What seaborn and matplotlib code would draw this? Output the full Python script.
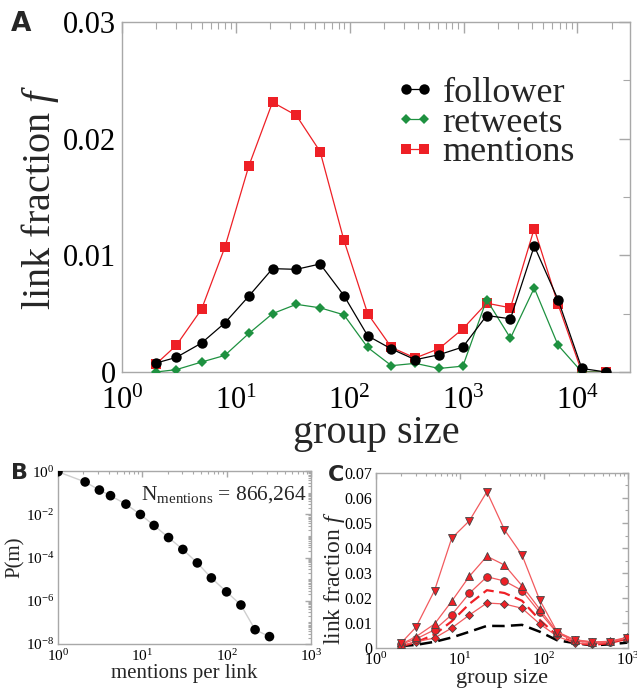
import numpy as np
import pandas as pd
import matplotlib
matplotlib.use("Agg")
import matplotlib.pyplot as plt
import matplotlib.ticker as mticker
import seaborn as sns

# ---------------- data ----------------
group_size = [2, 3, 5, 8, 13, 21, 34, 55, 89, 144, 233, 377, 610, 987,
              1597, 2584, 4181, 6765, 10946, 17711]
follower = [0.00077, 0.00125, 0.00248, 0.0042, 0.0065, 0.00886, 0.0088, 0.00926,
            0.00655, 0.0031, 0.00197, 0.00105, 0.00148, 0.00214, 0.00484, 0.00456,
            0.0108, 0.0062, 0.0003, 0.0]
retweets = [0.0, 0.0002, 0.00085, 0.00142, 0.0033, 0.0050, 0.0058, 0.0055,
            0.0049, 0.0021, 0.00054, 0.00074, 0.0003, 0.0005, 0.0062, 0.0029,
            0.0072, 0.0023, 0.0, 0.0]
mentions = [0.0007, 0.00228, 0.00538, 0.01068, 0.01766, 0.02313, 0.0220, 0.0189,
            0.0113, 0.0050, 0.0021, 0.0012, 0.0020, 0.0037, 0.0059, 0.0055,
            0.0123, 0.0058, 0.0, 0.0]

mentions_per_link = [1, 2.1, 3.1, 4.2, 6.4, 9.5, 13.8, 20.5, 30.3, 45, 66, 100, 148, 218, 323]
p_m = [0.95, 0.32, 0.135, 0.074, 0.030, 0.010, 0.0031, 8.5e-4, 2.4e-4, 5.7e-5,
       1.15e-5, 2.6e-6, 6.4e-7, 4.6e-8, 2.2e-8]

group_size_c = group_size[:14]
c_down = [0.002, 0.0083, 0.023, 0.0439, 0.0509, 0.0625, 0.0473, 0.0372, 0.0193,
          0.0065, 0.0033, 0.0025, 0.0025, 0.0041]
c_up = [0.0016, 0.0045, 0.0096, 0.0187, 0.0287, 0.0367, 0.0332, 0.0249, 0.0156,
        0.0063, 0.0031, 0.0024, 0.0027, 0.0043]
c_circle = [0.0015, 0.0036, 0.0073, 0.0133, 0.0219, 0.0285, 0.0268, 0.023, 0.0143,
            0.006, 0.0028, 0.0021, 0.0025, 0.0039]
c_diamond = [0.0009, 0.0025, 0.004, 0.008, 0.0132, 0.018, 0.0176, 0.0159, 0.0097,
             0.0047, 0.002, 0.0016, 0.0023, 0.0041]
c_mentions = mentions[:14]
c_follower = follower[:14]

ya_ticks = [0, 0.01, 0.02, 0.03]
ya_labels = ["0", "0.01", "0.02", "0.03"]
yc_ticks = [0, 0.01, 0.02, 0.03, 0.04, 0.05, 0.06, 0.07]
yc_labels = ["0", "0.01", "0.02", "0.03", "0.04", "0.05", "0.06", "0.07"]
xa_ticks = [1, 10, 100, 1000, 10000]
xbc_ticks = [1, 10, 100, 1000]
yb_ticks = [1e-8, 1e-6, 1e-4, 1e-2, 1]

# ---------------- style ----------------
sns.set_style("white")
SERIF = "Liberation Serif"
plt.rcParams["font.family"] = [SERIF, "DejaVu Serif"]
plt.rcParams["font.serif"] = [SERIF, "DejaVu Serif"]
plt.rcParams["mathtext.fontset"] = "custom"
plt.rcParams["mathtext.rm"] = SERIF
plt.rcParams["mathtext.it"] = SERIF + ":italic"
plt.rcParams["mathtext.bf"] = SERIF + ":bold"

RED = "#ee2026"
GREEN = "#1e9140"
GRAY = "#a8a8a8"


def pow_label(v):
    e = int(round(np.log10(v)))
    return r"$\mathrm{10^{%d}}$" % e


fig = plt.figure(figsize=(6.37, 6.91), dpi=100)
axA = fig.add_axes([0.1915, 0.4617, 0.7975, 0.5063])
axB = fig.add_axes([0.091, 0.068, 0.397, 0.25])
axC = fig.add_axes([0.590, 0.0622, 0.3956, 0.2533])


def style_axes(ax, lsize, maj, mino, xpad=3.5, ypad=3.5):
    for s in ax.spines.values():
        s.set_color(GRAY)
        s.set_linewidth(1.0)
    ax.tick_params(which="both", direction="in", top=True, right=True,
                   color=GRAY, labelcolor="black", labelsize=lsize,
                   labelfontfamily=SERIF)
    ax.tick_params(which="major", length=maj, width=1.0)
    ax.tick_params(which="minor", length=mino, width=0.8)
    ax.tick_params(axis="x", which="both", pad=xpad)
    ax.tick_params(axis="y", which="both", pad=ypad)


minor_log = mticker.LogLocator(base=10, subs=np.arange(2, 10), numticks=30)

# ---------------- panel A ----------------
dfA = pd.DataFrame({"size": group_size, "follower": follower,
                    "retweets": retweets, "mentions": mentions})
axA.set_xscale("log")
sns.lineplot(data=dfA, x="size", y="mentions", ax=axA, color=RED, lw=0.9,
             marker="s", markersize=7, markeredgewidth=0, label="mentions",
             estimator=None, zorder=3)
sns.lineplot(data=dfA, x="size", y="retweets", ax=axA, color=GREEN, lw=0.9,
             marker="D", markersize=5.5, markeredgewidth=0, label="retweets",
             estimator=None, zorder=4)
sns.lineplot(data=dfA, x="size", y="follower", ax=axA, color="black", lw=0.9,
             marker="o", markersize=7.5, markeredgewidth=0, label="follower",
             estimator=None, zorder=5)
axA.set_yticks(ya_ticks, ya_labels)
axA.set_xticks(xa_ticks, [pow_label(v) for v in xa_ticks])
axA.yaxis.set_minor_locator(mticker.MultipleLocator(0.005))
axA.xaxis.set_minor_locator(minor_log)
axA.xaxis.set_minor_formatter(mticker.NullFormatter())
style_axes(axA, 22, 8, 5, xpad=11, ypad=4)
axA.set_xlim(1, 2.9e4)
axA.set_ylim(0, 0.03)
axA.set_xlabel("group size", fontsize=29, labelpad=-1, family=SERIF)
axA.set_ylabel(r"link fraction $f$", fontsize=29, labelpad=2, family=SERIF)
h, l = axA.get_legend_handles_labels()
order = [2, 1, 0]
axA.legend([h[i] for i in order], [l[i] for i in order], loc="upper left",
           bbox_to_anchor=(0.51, 0.885), frameon=False, numpoints=2,
           prop=dict(family=SERIF, size=26),
           handlelength=1.1, handletextpad=0.2, labelspacing=-0.1,
           borderaxespad=0)

# ---------------- panel B ----------------
dfB = pd.DataFrame({"m": mentions_per_link, "p": p_m})
axB.set_xscale("log")
axB.set_yscale("log")
sns.lineplot(data=dfB, x="m", y="p", ax=axB, color="#cfcfcf", lw=1.0,
             estimator=None, zorder=2)
sns.scatterplot(data=dfB, x="m", y="p", ax=axB, color="black", s=48,
                edgecolor="none", zorder=3)
axB.set_yticks(yb_ticks, [pow_label(v) for v in yb_ticks])
axB.set_xticks(xbc_ticks, [pow_label(v) for v in xbc_ticks])
axB.yaxis.set_minor_locator(mticker.LogLocator(base=10, subs=np.arange(1, 10), numticks=40))
axB.yaxis.set_minor_formatter(mticker.NullFormatter())
axB.xaxis.set_minor_locator(minor_log)
axB.xaxis.set_minor_formatter(mticker.NullFormatter())
style_axes(axB, 11, 4, 2.5, xpad=3, ypad=2.5)
axB.set_xlim(1, 1000)
axB.set_ylim(1e-8, 1)
axB.set_xlabel("mentions per link", fontsize=15, labelpad=0, family=SERIF)
axB.set_ylabel("P(m)", fontsize=15, labelpad=1, family=SERIF)
axB.text(0.985, 0.865, r"N$_{\mathrm{mentions}}$ = 866,264", transform=axB.transAxes,
         ha="right", va="center", fontsize=15.5, family=SERIF)

# ---------------- panel C ----------------
dfC = pd.DataFrame({"size": group_size_c, "down": c_down, "up": c_up,
                    "circle": c_circle, "diamond": c_diamond,
                    "ment": c_mentions, "foll": c_follower})
axC.set_xscale("log")
mk = dict(markeredgecolor="#444444", markeredgewidth=0.6, estimator=None)
sns.lineplot(data=dfC, x="size", y="foll", ax=axC, color="black", lw=1.8,
             linestyle=(0, (5, 2.5)), estimator=None, zorder=2)
sns.lineplot(data=dfC, x="size", y="ment", ax=axC, color=RED, lw=1.6,
             linestyle=(0, (5, 2.5)), estimator=None, zorder=2)
sns.lineplot(data=dfC, x="size", y="diamond", ax=axC, color="#f25a5e", lw=0.9,
             marker="D", markersize=4.5, markerfacecolor=RED, zorder=3, **mk)
sns.lineplot(data=dfC, x="size", y="circle", ax=axC, color="#f25a5e", lw=0.9,
             marker="o", markersize=5.5, markerfacecolor=RED, zorder=3, **mk)
sns.lineplot(data=dfC, x="size", y="up", ax=axC, color="#f25a5e", lw=0.9,
             marker="^", markersize=6, markerfacecolor=RED, zorder=3, **mk)
sns.lineplot(data=dfC, x="size", y="down", ax=axC, color="#f25a5e", lw=0.9,
             marker="v", markersize=6, markerfacecolor=RED, zorder=3, **mk)
axC.set_yticks(yc_ticks, yc_labels)
axC.set_xticks(xbc_ticks, [pow_label(v) for v in xbc_ticks])
axC.yaxis.set_minor_locator(mticker.MultipleLocator(0.005))
axC.xaxis.set_minor_locator(minor_log)
axC.xaxis.set_minor_formatter(mticker.NullFormatter())
style_axes(axC, 11.5, 4, 2.5, xpad=3, ypad=2.5)
axC.set_xlim(1, 1000)
axC.set_ylim(0, 0.07)
axC.set_xlabel("group size", fontsize=16, labelpad=0, family=SERIF)
axC.set_ylabel(r"link fraction $f$", fontsize=17, family=SERIF)
axC.yaxis.set_label_coords(-0.115, 0.40)

# ---------------- panel letters ----------------
fig.text(0.033, 0.965, "A", fontsize=19, fontweight="bold", family="DejaVu Sans",
         ha="center", va="center")
fig.text(0.030, 0.316, "B", fontsize=16, fontweight="bold", family="DejaVu Sans",
         ha="center", va="center")
fig.text(0.528, 0.313, "C", fontsize=16, fontweight="bold", family="DejaVu Sans",
         ha="center", va="center")

fig.savefig("out.png", dpi=100)
